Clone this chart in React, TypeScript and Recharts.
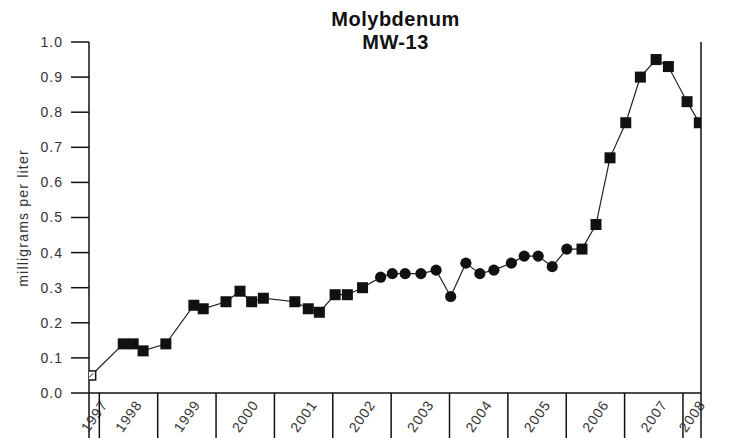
import { LineChart, Line, XAxis, YAxis } from "recharts"

const titleText = "Molybdenum"
const wellText = "MW-13"
const unitText = "milligrams per liter"

// sampling dates in decimal years
const sampleDates = [
  1997.86, 1998.41, 1998.58, 1998.75, 1999.14, 1999.62, 1999.78, 2000.17, 2000.41, 2000.61,
  2000.81, 2001.35, 2001.58, 2001.77, 2002.04, 2002.25, 2002.51, 2002.82, 2003.02, 2003.24,
  2003.51, 2003.77, 2004.02, 2004.28, 2004.52, 2004.76, 2005.06, 2005.28, 2005.52, 2005.76,
  2006.01, 2006.27, 2006.51, 2006.75, 2007.02, 2007.27, 2007.54, 2007.75, 2008.07, 2008.28,
]

const moValues = [
  0.05, 0.14, 0.14, 0.12, 0.14, 0.25, 0.24, 0.26, 0.29, 0.26,
  0.27, 0.26, 0.24, 0.23, 0.28, 0.28, 0.3, 0.33, 0.34, 0.34,
  0.34, 0.35, 0.275, 0.37, 0.34, 0.35, 0.37, 0.39, 0.39, 0.36,
  0.41, 0.41, 0.48, 0.67, 0.77, 0.9, 0.95, 0.93, 0.83, 0.77,
]

// U = non-detect, A / B = lab
const labCodes = [
  "U", "A", "A", "A", "A", "A", "A", "A", "A", "A",
  "A", "A", "A", "A", "A", "A", "A", "B", "B", "B",
  "B", "B", "B", "B", "B", "B", "B", "B", "B", "B",
  "B", "A", "A", "A", "A", "A", "A", "A", "A", "A",
]

const years = [1997, 1998, 1999, 2000, 2001, 2002, 2003, 2004, 2005, 2006, 2007, 2008]
const yTicks = [0, 0.1, 0.2, 0.3, 0.4, 0.5, 0.6, 0.7, 0.8, 0.9, 1.0]

const xStart = 1997.823
const xEnd = 2008.309

const data = sampleDates.map((t, i) => ({ t, v: moValues[i], lab: labCodes[i] }))

const dividers = [xStart, ...years.filter((y) => y > xStart && y < xEnd), xEnd]
const yearLabels = years.map((y) => ({
  year: String(y),
  pos: (Math.max(xStart, y) + Math.min(xEnd, y + 1)) / 2,
}))
const xTicks = [...dividers, ...yearLabels.map((l) => l.pos)].sort((a, b) => a - b)

const font = "'Liberation Sans', Arial, sans-serif"
const ink = "#111"

const YearTick = (props: any) => {
  const { x, y, payload } = props
  const v = payload.value
  if (dividers.includes(v)) {
    return <line x1={x} x2={x} y1={y} y2={y + 46} stroke={ink} strokeWidth={1.5} />
  }
  const lab = yearLabels.find((l) => l.pos === v)
  const cy = y + 23
  return (
    <text
      x={x}
      y={cy}
      transform={`rotate(-55 ${x} ${cy})`}
      textAnchor="middle"
      dominantBaseline="central"
      fontSize={14}
      fontFamily={font}
      letterSpacing={1}
      fill="#333"
    >
      {lab ? lab.year : ""}
    </text>
  )
}

const Marker = (props: any) => {
  const { cx, cy, payload, index } = props
  if (cx == null || cy == null) return <g key={index} />
  if (payload.lab === "U") {
    return (
      <g key={index}>
        <rect x={cx - 4.5} y={cy - 4.5} width={9} height={9} fill="#fff" stroke={ink} strokeWidth={1.5} />
        <line x1={cx - 2} y1={cy + 2} x2={cx + 2} y2={cy - 2} stroke={ink} strokeWidth={1} />
      </g>
    )
  }
  if (payload.lab === "B") {
    return <circle key={index} cx={cx} cy={cy} r={5.6} fill={ink} />
  }
  return <rect key={index} x={cx - 5.5} y={cy - 5.5} width={11} height={11} fill={ink} />
}

export default function App() {
  return (
    <div style={{ position: "relative", width: 747, height: 430 }}>
      <div
        style={{
          position: "absolute",
          left: 287.5,
          top: 0,
          width: 200,
          textAlign: "center",
          fontFamily: font,
          fontWeight: "bold",
          fontSize: 20,
          lineHeight: "23px",
          letterSpacing: 0.5,
          color: "#111",
        }}
      >
        <div>{titleText}</div>
        <div>{wellText}</div>
      </div>
      <div
        style={{
          position: "absolute",
          left: 14.7,
          top: 210,
          transform: "translate(-50%, -50%) rotate(-90deg)",
          whiteSpace: "nowrap",
          fontFamily: font,
          fontSize: 14,
          letterSpacing: 1.2,
          color: "#333",
        }}
      >
        {unitText}
      </div>
      <LineChart width={747} height={430} data={data} margin={{ top: 34, right: 0, bottom: 0, left: 0 }}>
        <XAxis
          dataKey="t"
          type="number"
          domain={[xStart, xEnd]}
          allowDataOverflow
          ticks={xTicks}
          interval={0}
          tickLine={false}
          tickSize={0}
          tickMargin={0}
          height={45}
          axisLine={{ stroke: ink, strokeWidth: 1.5 }}
          tick={<YearTick />}
        />
        <YAxis
          yAxisId="left"
          type="number"
          domain={[0, 1]}
          ticks={yTicks}
          interval={0}
          width={81}
          tickSize={18}
          tickMargin={8}
          tickFormatter={(v: number) => v.toFixed(1)}
          axisLine={{ stroke: ink, strokeWidth: 1.5 }}
          tickLine={{ stroke: ink, strokeWidth: 1.5 }}
          tick={{ fill: "#333", fontSize: 14, fontFamily: font, letterSpacing: 1 }}
        />
        <YAxis
          yAxisId="right"
          orientation="right"
          type="number"
          domain={[0, 1]}
          ticks={yTicks}
          interval={0}
          width={54}
          tickSize={17}
          tickMargin={9}
          tickFormatter={(v: number) => v.toFixed(1)}
          axisLine={{ stroke: ink, strokeWidth: 1.5 }}
          tickLine={{ stroke: ink, strokeWidth: 1.5 }}
          tick={{ fill: "#333", fontSize: 14, fontFamily: font, letterSpacing: 1 }}
        />
        <Line
          yAxisId="left"
          dataKey="v"
          stroke="#222"
          strokeWidth={1.2}
          dot={(p: any) => <Marker {...p} />}
          activeDot={false}
          isAnimationActive={false}
        />
      </LineChart>
    </div>
  )
}
